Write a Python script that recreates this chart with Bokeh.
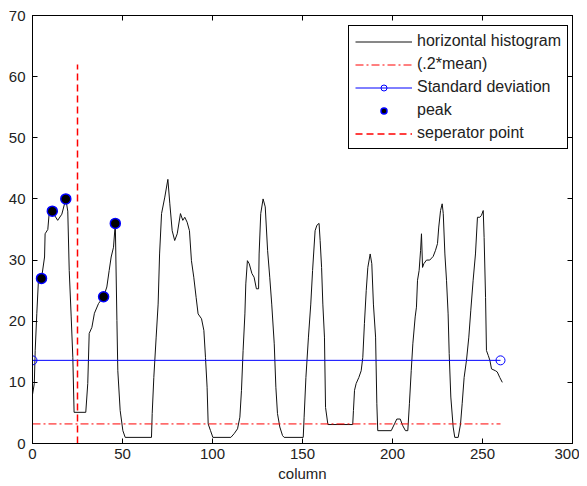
from bokeh.plotting import figure
from bokeh.models import Range1d, LinearAxis, Legend, LegendItem, FixedTicker
from bokeh.embed import file_html
from bokeh.resources import INLINE

# ---- data ----
hist_x = [0, 1, 1.5, 2.4, 3.3, 5, 6.7, 7, 8.5, 9.3, 11, 12.5, 14, 16.3, 18.5, 19.6, 20.4, 21.5,
          22.4, 23.1, 29.6, 30.7, 31.5, 33, 34.4, 36.7, 39.5, 41.3, 42.6, 43.7, 45, 46, 46.9,
          47.4, 48.7, 50.2, 51.5, 66.1, 66.5, 67.4, 68.7, 69.8, 70.6, 71.7, 73.5, 75.2, 76.3,
          77.6, 79, 80.4, 82.2, 83.5, 84.6, 85.9, 87.2, 88.3, 89.6, 90.9, 92, 93.9, 95.2, 96.1,
          97, 97.6, 98.9, 100.2, 110.2, 112, 113.9, 115.2, 116.1, 117, 118, 118.5, 119.4, 120.4,
          121.9, 123.1, 124.4, 125.6, 125.9, 126.8, 128.1, 129.3, 130.6, 131.8, 132.9, 134.3,
          135.2, 136.1, 137.4, 138.9, 139.8, 150.4, 150.9, 151.9, 153.3, 154.6, 155.6, 157, 158,
          159.2, 159.8, 160.6, 161.3, 162.2, 162.8, 164.1, 177.9, 178.3, 178.9, 179.8, 181.3,
          182.6, 183.5, 184.4, 185.4, 186.3, 187.6, 188.5, 189.4, 190.6, 191.3, 191.8, 199.3,
          201.1, 202.4, 204.3, 205.7, 207.2, 208.5, 209.4, 210.4, 211.3, 212.6, 213.3, 213.9,
          214.8, 215.6, 216.1, 216.7, 217.4, 218.9, 220.7, 222.6, 223.9, 225, 225.7, 226.7,
          227.6, 228.2, 229.1, 230, 230.9, 231.5, 232.4, 233.7, 234.6, 236.5, 237.8, 238.7,
          239.8, 241.1, 242.4, 243.5, 244.8, 246.1, 247.2, 248.5, 249.4, 250.4, 250.9, 251.7,
          252.2, 253.2, 254.1, 255, 257.2, 258.2, 259.6, 261]
hist_y = [8, 9.8, 15.2, 21.3, 26.7, 27, 30.5, 34.3, 35, 37.8, 38, 37.2, 36.5, 37.5, 40, 38, 28.3,
          20.7, 14.1, 5.1, 5.1, 9.8, 18, 19, 21.3, 22.9, 24, 25.6, 28.3, 30.5, 32.1, 36, 20.1,
          11.9, 5.4, 2.1, 1, 1, 4.9, 10.8, 17.4, 22.8, 31, 37.6, 40.3, 43.2, 39.2, 34.8, 33.2,
          34.3, 37.6, 36.5, 37, 36.2, 34.8, 29.9, 27.2, 23.9, 21.2, 20.4, 18.5, 14.1, 9.2, 3.2,
          2.1, 1, 1, 1.6, 2.4, 4.3, 8.7, 15.2, 21.2, 26.1, 29.9, 29.4, 27.8, 27.2, 25.3, 25.3,
          31, 37.6, 40, 38.7, 31.6, 27.2, 22.8, 16.3, 9.2, 4.9, 2.7, 1.3, 1, 1, 4.3, 10.8, 17.4,
          22.8, 28.3, 34.8, 35.7, 36, 33.2, 28.8, 22.8, 17.4, 5.9, 3.1, 3.1, 5.4, 8.7, 9.8, 10.8,
          11.9, 14.1, 19.6, 25, 28.8, 31, 29.4, 22.8, 17.4, 6.5, 2.1, 2.1, 3.2, 4, 4, 2.9, 2.1,
          2.1, 6.5, 11.9, 16.3, 20.7, 22.3, 26.7, 28.3, 31.6, 34.3, 28.8, 29.4, 30, 30, 30.6,
          31.6, 32.7, 35.4, 38.1, 39.2, 37.6, 31, 26.7, 21.2, 14.7, 7.6, 2.7, 1, 1, 3.2, 6.5,
          10.8, 13.6, 17.4, 21.8, 26.7, 31, 37, 37, 37.3, 38.1, 33.7, 23.9, 15.2, 14.4, 13.6,
          12.2, 11.9, 11.7, 10.8, 10]

mean_x = [0, 260]
mean_y = [3.2, 3.2]

std_x = [0, 260]
std_y = [13.6, 13.6]

peak_x = [5, 11, 18.5, 39.5, 46]
peak_y = [27, 38, 40, 24, 36]

sep_x = [25, 25]
sep_y = [0, 62]

x_ticks = [0, 50, 100, 150, 200, 250, 300]
y_ticks = [0, 10, 20, 30, 40, 50, 60, 70]

FONT = "Liberation Sans"

p = figure(width=579, height=485, output_backend="svg", toolbar_location=None,
           x_range=Range1d(0, 300), y_range=Range1d(0, 70),
           min_border_left=32, min_border_right=7, min_border_top=15, min_border_bottom=42,
           x_axis_label="column")
p.xgrid.visible = False
p.ygrid.visible = False
p.outline_line_color = "black"
p.outline_line_alpha = 1.0
p.background_fill_color = "white"
p.border_fill_color = "white"

for ax, ticks in ((p.xaxis[0], x_ticks), (p.yaxis[0], y_ticks)):
    ax.ticker = FixedTicker(ticks=ticks)
    ax.major_tick_in = 5
    ax.major_tick_out = 0
    ax.minor_tick_line_color = None
    ax.axis_line_color = "black"
    ax.major_tick_line_color = "black"
    ax.major_label_text_font = FONT
    ax.major_label_text_font_size = "15px"
    ax.major_label_text_color = "#222222"
    ax.axis_label_text_font = FONT
    ax.axis_label_text_font_size = "15px"
    ax.axis_label_text_font_style = "normal"
    ax.axis_label_text_color = "#222222"
p.xaxis[0].major_label_standoff = 5
p.xaxis[0].axis_label_standoff = 3
p.yaxis[0].major_label_standoff = 7

for loc, ticks in (("above", x_ticks), ("right", y_ticks)):
    ax = LinearAxis(ticker=FixedTicker(ticks=ticks), major_tick_in=5, major_tick_out=0,
                    minor_tick_line_color=None, major_label_text_font_size="0px",
                    major_label_standoff=0, axis_line_color="black",
                    major_tick_line_color="black")
    p.add_layout(ax, loc)

r_hist = p.line(hist_x, hist_y, line_color="#111111", line_width=1)
r_mean = p.line(mean_x, mean_y, line_color="#ff0000", line_width=1, line_dash="8 3 2 3")
r_std = p.line(std_x, std_y, line_color="#0000ff", line_width=1)
r_std_m = p.scatter(std_x, std_y, marker="circle", size=9, fill_color=None,
                    line_color="#0000ff", line_width=1)
r_peak = p.scatter(peak_x, peak_y, marker="circle", size=10, fill_color="black",
                   line_color="#0000ff", line_width=1.5)
r_sep = p.line(sep_x, sep_y, line_color="#ff0000", line_width=1.5, line_dash="7 4")

legend = Legend(items=[
    LegendItem(label="horizontal histogram", renderers=[r_hist]),
    LegendItem(label="(.2*mean)", renderers=[r_mean]),
    LegendItem(label="Standard deviation", renderers=[r_std, r_std_m]),
    LegendItem(label="peak", renderers=[r_peak]),
    LegendItem(label="seperator point", renderers=[r_sep]),
], location=(316, 294))
legend.margin = 0
legend.padding = 6
legend.spacing = 5
legend.glyph_width = 57
legend.glyph_height = 15
legend.label_height = 15
legend.label_standoff = 5
legend.label_text_font = FONT
legend.label_text_font_size = "16px"
legend.label_text_color = "#222222"
legend.border_line_color = "black"
legend.border_line_alpha = 1.0
legend.background_fill_alpha = 1.0
p.add_layout(legend, "center")

open("out.html", "w").write(file_html(p, INLINE))
